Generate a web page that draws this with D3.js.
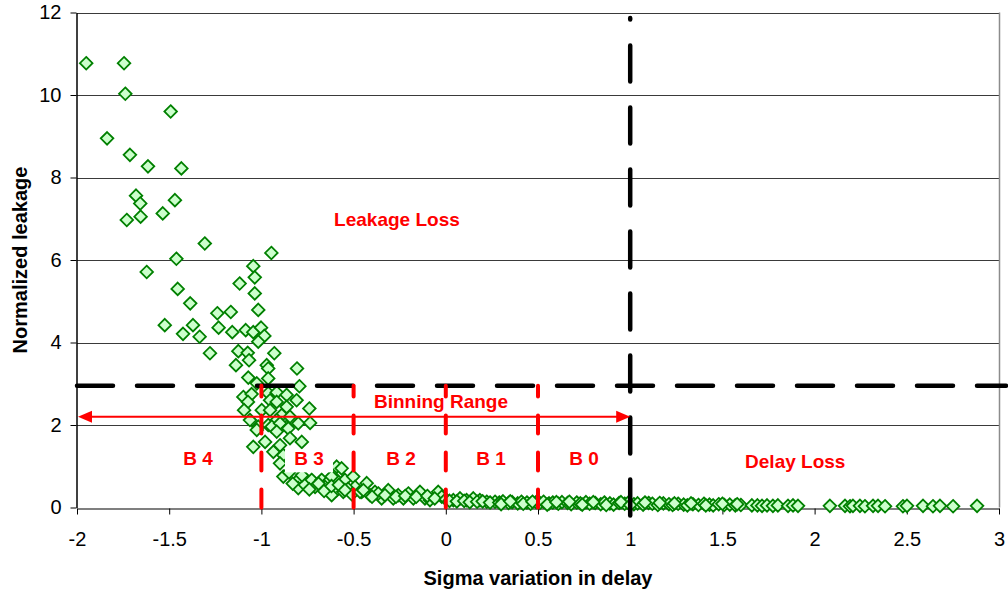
<!DOCTYPE html>
<html>
<head>
<meta charset="utf-8">
<script src="https://cdn.jsdelivr.net/npm/d3@7"></script>
<style>
  html, body { margin: 0; padding: 0; background: #fff; }
  svg { display: block; font-family: "Liberation Sans", Arial, sans-serif; }
</style>
</head>
<body>
<svg id="chart" width="1008" height="592"></svg>
<script>
// Sigma variation in delay (x) for each sampled die
const sigmaDelay = [
  -1.95, -1.745, -1.738, -1.492, -1.837, -1.713, -1.615, -1.434, -1.680, -1.657,
  -1.469, -1.730, -1.655, -1.535, -1.307, -0.946, -1.461, -1.622, -1.044, -1.036,
  -1.454, -1.118, -1.036, -1.386, -1.017, -1.239, -1.166, -1.524, -1.371, -1.425,
  -1.335, -1.232, -1.158, -1.085, -1.044, -1.002, -0.984, -1.017, -1.279, -1.125,
  -1.074, -0.930, -1.138, -1.067, -0.971, -0.963, -0.807,
  -1.098, -1.053, -1.025, -0.963, -1.071, -0.794, -0.963, -0.917, -0.863, -0.953,
  -0.917, -0.809, -0.740, -0.998, -0.953, -0.863, -0.890, -0.845, -0.800, -0.736,
  -1.017, -0.963, -0.917, -0.863, -1.073, -1.094, -1.062,
  -1.025, -0.944, -0.899, -1.044, -0.980, -0.917, -0.854, -0.845, -0.781, -0.935,
  -0.899, -0.881, -0.899, -0.881, -0.800, -0.800, -0.764, -0.727, -0.673, -0.709,
  -0.637, -0.592, -0.592, -0.592, -0.547, -0.556, -0.502, -0.492, -0.456, -0.655,
  -0.619, -0.619,
  -0.85, -0.83, -0.78, -0.74, -0.69, -0.66, -0.62, -0.58, -0.53, -0.51,
  -0.565, -0.547, -0.465, -0.429, -0.411, -0.384, -0.348, -0.312, -0.285, -0.258,
  -0.230, -0.203, -0.176, -0.140, -0.113, -0.086, -0.041, -0.022, 0.041, 0.077,
  0.113, 0.149, 0.185, 0.222, 0.267, -0.447, -0.366,
  -0.40, -0.33, -0.27, -0.22, -0.16, -0.10, -0.06, 0.00, 0.02, 0.06,
  0.10, 0.13, 0.17, 0.20, 0.24,
  0.29, 0.31, 0.34, 0.36, 0.39, 0.41, 0.44, 0.46, 0.49, 0.51,
  0.53, 0.56, 0.58, 0.61, 0.63, 0.66, 0.68, 0.71, 0.73, 0.76,
  0.78, 0.81, 0.84, 0.86, 0.89, 0.91, 0.94, 0.97, 0.99, 1.02,
  1.04, 1.07, 1.10, 1.12, 1.15, 1.18, 1.21, 1.23, 1.26, 1.29,
  1.31, 1.34, 1.37, 1.40, 1.43, 1.45, 1.48, 1.51, 1.54, 1.57,
  1.60, 1.66, 1.69, 1.715, 1.742, 1.774, 1.801, 1.856, 1.883, 1.910,
  0.30, 0.35, 0.42, 0.47, 0.55, 0.60, 0.67, 0.74, 0.80, 0.87,
  0.95, 1.00, 1.08, 1.16, 1.24, 1.33, 1.41, 1.50, 1.58,
  2.083, 2.165, 2.192, 2.208, 2.246, 2.273, 2.317, 2.344, 2.382, 2.479,
  2.501, 2.588, 2.642, 2.680, 2.751, 2.881
];

// Normalized leakage (y) for the same dies, in the same order
const normLeakage = [
  10.77, 10.77, 10.03, 9.60, 8.95, 8.55, 8.27, 8.22, 7.56, 7.37,
  7.45, 6.97, 7.05, 7.13, 6.40, 6.17, 6.03, 5.71, 5.85, 5.58,
  5.30, 5.43, 5.19, 4.95, 4.79, 4.71, 4.74, 4.42, 4.42, 4.21,
  4.14, 4.36, 4.25, 4.30, 4.25, 4.36, 4.16, 4.02, 3.74, 3.79,
  3.75, 3.74, 3.45, 3.57, 3.45, 3.37, 3.37,
  2.68, 2.75, 3.01, 3.13, 3.15, 2.94, 2.77, 2.79, 2.73, 2.60,
  2.56, 2.60, 2.40, 2.36, 2.36, 2.44, 2.24, 2.20, 2.04, 2.05,
  1.96, 2.00, 2.12, 1.96, 2.56, 2.36, 2.12,
  1.88, 1.96, 2.04, 1.47, 1.59, 1.84, 1.92, 1.68, 1.59, 1.35,
  1.51, 1.27, 1.07, 0.75, 0.67, 0.47, 0.55, 0.67, 0.67, 0.50,
  0.63, 0.99, 0.67, 0.42, 0.67, 0.38, 0.75, 0.50, 0.38, 0.50,
  0.30, 0.75,
  0.85, 0.58, 0.78, 0.44, 0.58, 0.40, 0.52, 0.55, 0.45, 0.32,
  0.95, 0.42, 0.38, 0.59, 0.30, 0.38, 0.22, 0.42, 0.22, 0.30,
  0.22, 0.34, 0.22, 0.38, 0.22, 0.18, 0.38, 0.26, 0.18, 0.22,
  0.18, 0.22, 0.18, 0.14, 0.14, 0.42, 0.34,
  0.26, 0.30, 0.26, 0.28, 0.26, 0.28, 0.22, 0.20, 0.16, 0.15,
  0.16, 0.13, 0.14, 0.15, 0.12,
  0.12, 0.15, 0.11, 0.13, 0.10, 0.14, 0.12, 0.09, 0.13, 0.11,
  0.14, 0.10, 0.12, 0.09, 0.13, 0.11, 0.08, 0.12, 0.10, 0.13,
  0.09, 0.11, 0.08, 0.12, 0.10, 0.07, 0.11, 0.09, 0.12, 0.08,
  0.10, 0.07, 0.11, 0.09, 0.06, 0.10, 0.08, 0.06, 0.09, 0.07,
  0.05, 0.08, 0.06, 0.09, 0.07, 0.05, 0.08, 0.06, 0.07, 0.05,
  0.06, 0.05, 0.05, 0.04, 0.05, 0.04, 0.05, 0.04, 0.05, 0.04,
  0.08, 0.15, 0.09, 0.14, 0.07, 0.13, 0.14, 0.07, 0.13, 0.06,
  0.13, 0.06, 0.12, 0.11, 0.10, 0.10, 0.05, 0.09, 0.08,
  0.04, 0.04, 0.03, 0.04, 0.04, 0.03, 0.04, 0.04, 0.03, 0.03,
  0.04, 0.04, 0.03, 0.04, 0.03, 0.04
];

const xTicks = [-2, -1.5, -1, -0.5, 0, 0.5, 1, 1.5, 2, 2.5, 3];
const xTickLabels = ["-2", "-1.5", "-1", "-0.5", "0", "0.5", "1", "1.5", "2", "2.5", "3"];
const yTicks = [0, 2, 4, 6, 8, 10, 12];

// Threshold guides and bin boundaries
const leakageLimit = [2.95];
const delayLimit = [1];
const binEdges = [-1, -0.5, 0, 0.5];
const binningRange = [-2, 1];
const binningArrowLevel = [2.2];

// Bin names with their centre positions (sigma)
const binNames = ["B 4", "B 3", "B 2", "B 1", "B 0"];
const binLabelX = [-1.344, -0.742, -0.243, 0.245, 0.75];
const binLabelY = [1.03, 1.03, 1.03, 1.03, 1.03];

const svg = d3.select("#chart");
const W = 1008, H = 592;
svg.append("rect").attr("width", W).attr("height", H).attr("fill", "#fff");

const x = d3.scaleLinear().domain([-2, 3]).range([77, 999]);
const y = d3.scaleLinear().domain([0, 12]).range([507.5, 12.5]);

const font = '"Liberation Sans", Arial, sans-serif';

// horizontal gridlines
svg.append("g").selectAll("line").data(yTicks.filter(d => d > 0)).join("line")
  .attr("x1", x(-2)).attr("x2", x(3))
  .attr("y1", d => Math.round(y(d)) + 0.5).attr("y2", d => Math.round(y(d)) + 0.5)
  .attr("stroke", "#3a3a3a").attr("stroke-width", 1);

// right plot border
svg.append("line")
  .attr("x1", Math.round(x(3)) + 0.5).attr("x2", Math.round(x(3)) + 0.5)
  .attr("y1", y(12)).attr("y2", y(0))
  .attr("stroke", "#8c8c8c").attr("stroke-width", 1.5);

// axes
const xAxis = d3.axisBottom(x).tickValues(xTicks)
  .tickFormat((d, i) => xTickLabels[i]).tickSize(6).tickPadding(17).tickSizeOuter(0);
const gx = svg.append("g").attr("transform", `translate(0,${Math.round(y(0)) + 0.5})`).call(xAxis);
gx.select(".domain").attr("stroke", "#000").attr("stroke-width", 1.2);
gx.selectAll(".tick line").attr("stroke", "#000");
gx.selectAll("text").attr("font-family", font).attr("font-size", 20).attr("fill", "#000");

const yAxis = d3.axisLeft(y).tickValues(yTicks).tickSize(6).tickPadding(9).tickSizeOuter(0);
const gy = svg.append("g").attr("transform", `translate(${Math.round(x(-2)) - 0.5},0)`).call(yAxis);
gy.select(".domain").attr("stroke", "#000").attr("stroke-width", 1.5);
gy.selectAll(".tick line").attr("stroke", "#000");
gy.selectAll("text").attr("font-family", font).attr("font-size", 20).attr("fill", "#000");

// scatter of dies as open diamonds
const pts = sigmaDelay.map((s, i) => ({ s, l: normLeakage[i] }));
const r = 6.3;
const diamond = `M0,${-r}L${r},0L0,${r}L${-r},0Z`;
svg.append("g").selectAll("path").data(pts).join("path")
  .attr("d", diamond)
  .attr("transform", d => `translate(${x(d.s)},${y(d.l)})`)
  .attr("fill", "#ccffcc").attr("stroke", "#008000").attr("stroke-width", 1.8);

// black dashed limit lines
svg.append("line")
  .attr("x1", x(-2)).attr("x2", 1006)
  .attr("y1", y(leakageLimit[0])).attr("y2", y(leakageLimit[0]))
  .attr("stroke", "#000").attr("stroke-width", 4.5)
  .attr("stroke-linecap", "round").attr("stroke-dasharray", "36,24");
svg.append("line")
  .attr("x1", x(delayLimit[0])).attr("x2", x(delayLimit[0]))
  .attr("y1", y(0) + 8).attr("y2", 18)
  .attr("stroke", "#000").attr("stroke-width", 4.5)
  .attr("stroke-linecap", "round").attr("stroke-dasharray", "36,26");

// red dashed bin boundaries
svg.append("g").selectAll("line").data(binEdges).join("line")
  .attr("x1", d => x(d)).attr("x2", d => x(d))
  .attr("y1", y(0)).attr("y2", y(leakageLimit[0]))
  .attr("stroke", "#ff0000").attr("stroke-width", 4)
  .attr("stroke-linecap", "round").attr("stroke-dasharray", "18,19");

// binning range double arrow
const ay = y(binningArrowLevel[0]);
const ax0 = x(binningRange[0]), ax1 = x(binningRange[1]);
svg.append("line")
  .attr("x1", ax0 + 10).attr("x2", ax1 - 10).attr("y1", ay).attr("y2", ay)
  .attr("stroke", "#ff0000").attr("stroke-width", 1.8);
svg.append("path")
  .attr("d", `M${ax1},${ay}L${ax1 - 14},${ay - 6}L${ax1 - 14},${ay + 6}Z`)
  .attr("fill", "#ff0000");
svg.append("path")
  .attr("d", `M${ax0 + 1},${ay}L${ax0 + 15},${ay - 6}L${ax0 + 15},${ay + 6}Z`)
  .attr("fill", "#ff0000");

// white backing behind the B 3 label
svg.append("rect")
  .attr("x", x(-0.742) - 24).attr("y", y(1.41))
  .attr("width", 48).attr("height", 23)
  .attr("fill", "#fff");

// red annotations
const red = svg.append("g").attr("font-family", font).attr("font-weight", "bold")
  .attr("font-size", 19).attr("fill", "#ff0000").attr("text-anchor", "middle");
red.selectAll("text.bin").data(binNames).join("text").attr("class", "bin")
  .attr("x", (d, i) => x(binLabelX[i])).attr("y", (d, i) => y(binLabelY[i]))
  .text(d => d);
red.append("text").attr("x", x(-0.265)).attr("y", 226).text("Leakage Loss");
red.append("text").attr("x", x(-0.026)).attr("y", 408).text("Binning Range");
red.append("text").attr("x", x(1.895)).attr("y", 468).text("Delay Loss");

// axis titles
svg.append("text")
  .attr("x", (x(-2) + x(3)) / 2).attr("y", 585)
  .attr("text-anchor", "middle").attr("font-family", font)
  .attr("font-weight", "bold").attr("font-size", 20)
  .text("Sigma variation in delay");
svg.append("text")
  .attr("transform", `translate(27,${(y(0) + y(12)) / 2}) rotate(-90)`)
  .attr("text-anchor", "middle").attr("font-family", font)
  .attr("font-weight", "bold").attr("font-size", 20)
  .text("Normalized leakage");
</script>
</body>
</html>
